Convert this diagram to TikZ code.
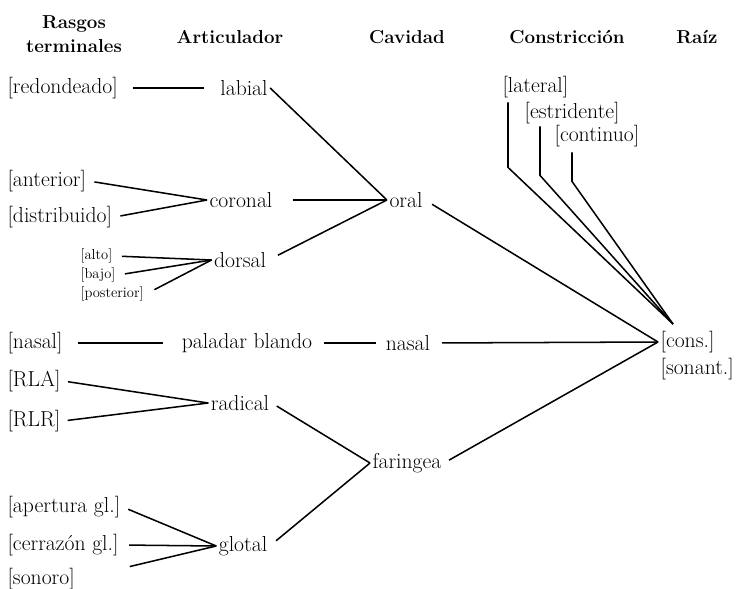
\documentclass[tikz,border=0pt]{standalone}
\usepackage{tikz}
\usetikzlibrary{positioning}

\tikzset{
  head/.style={font=\fontsize{16}{21}\selectfont\bfseries, align=center},
  feat/.style={inner sep=2pt},
  small/.style={font=\fontsize{12.4}{14}\selectfont, inner sep=2pt},
  link/.style={line width=1.3pt},
}

\begin{document}
\begin{tikzpicture}[x=0.3mm,y=0.3mm,font=\fontsize{18.5}{22}\selectfont]
                \useasboundingbox (0,0) rectangle (740,-589);
                % Headers
                \node[head] (hrasgos) at (74,-34) {Rasgos\\terminales};
                \node[head] (hartic) at (230,-37) {Articulador};
                \node[head] (hcavid) at (407,-37) {Cavidad};
                \node[head] (hconstr) at (567,-37) {Constricción};
                \node[head] (hraiz) at (697,-37) {Raíz};
                % Terminal features
                \node[feat,anchor=west] (redond) at (5,-88) {[redondeado]};
                \node[feat,anchor=west] (anterior) at (5,-181) {[anterior]};
                \node[feat,anchor=west] (distrib) at (5,-217) {[distribuido]};
                \node[small,anchor=west] (alto) at (78,-256) {[alto]};
                \node[small,anchor=west] (bajo) at (78,-275) {[bajo]};
                \node[small,anchor=west] (poster) at (78,-294) {[posterior]};
                \node[feat,anchor=west] (nasalf) at (5,-343) {[nasal]};
                \node[feat,anchor=west] (rla) at (5,-381) {[RLA]};
                \node[feat,anchor=west] (rlr) at (5,-421) {[RLR]};
                \node[feat,anchor=west] (apert) at (5,-507) {[apertura gl.]};
                \node[feat,anchor=west] (cerraz) at (5,-545) {[cerrazón gl.]};
                \node[feat,anchor=west] (sonoro) at (5,-579) {[sonoro]};
                % Articulators
                \node[feat] (labial) at (244,-88) {labial};
                \node[feat] (coronal) at (241,-200) {coronal};
                \node[feat] (dorsal) at (240,-260) {dorsal};
                \node[feat] (paladar) at (247,-343) {paladar blando};
                \node[feat] (radical) at (240,-403) {radical};
                \node[feat] (glotal) at (243,-546) {glotal};
                % Cavities
                \node[feat] (oral) at (406,-200) {oral};
                \node[feat] (nasal) at (408,-343) {nasal};
                \node[feat] (faringea) at (407,-463) {faringea};
                % Constriction
                \node[feat,anchor=west] (lateral) at (500,-87) {[lateral]};
                \node[feat,anchor=west] (estrid) at (522,-113) {[estridente]};
                \node[feat,anchor=west] (contin) at (552,-136) {[continuo]};
                % Root
                \node[feat,anchor=west] (cons) at (658,-342) {[cons.]};
                \node[feat,below=0pt of cons.south west,anchor=north west] (sonant) {[sonant.]};
                \coordinate (croot) at (673,-324);
                % Links
                \draw[link,shorten <=11pt,shorten >=12pt] (redond) -- (labial);
                \draw[link] (labial.east) -- (oral.west);
                \draw[link,shorten <=5pt] (anterior.east) -- (coronal.west);
                \draw[link,shorten <=5pt] (distrib.east) -- (coronal.west);
                \draw[link,shorten <=15pt] (coronal.east) -- (oral.west);
                \draw[link,shorten <=9pt] (dorsal.east) -- (oral.west);
                \draw[link,shorten <=6pt] (alto.east) -- (dorsal.west);
                \draw[link,shorten <=6pt] (bajo.east) -- (dorsal.west);
                \draw[link,shorten <=8pt] (poster.east) -- (dorsal.west);
                \draw[link,shorten <=7pt] (oral.east) -- (cons.west);
                \draw[link,shorten <=11pt,shorten >=14pt] (nasalf.east) -- (paladar.west);
                \draw[link,shorten <=8pt,shorten >=6pt] (paladar.east) -- (nasal.west);
                \draw[link,shorten <=8pt] (nasal.east) -- (cons.west);
                \draw[link,shorten <=4pt] (rla.east) -- (radical.west);
                \draw[link,shorten <=4pt] (rlr.east) -- (radical.west);
                \draw[link,shorten <=5pt] (radical.east) -- (faringea.west);
                \draw[link,shorten <=5pt] (apert.east) -- (glotal.west);
                \draw[link,shorten <=7pt] (cerraz.east) -- (glotal.west);
                \draw[link,shorten <=46pt] (sonoro.east) -- (glotal.west);
                \draw[link,shorten <=7pt] (glotal.east) -- (faringea.west);
                \draw[link,shorten <=5pt] (faringea.east) -- (cons.west);
                \draw[link] (lateral.south west) ++(8,-2) -- ++(0,-65) -- (croot);
                \draw[link] (estrid.south west) ++(18,0) -- ++(0,-49) -- (croot);
                \draw[link] (contin.south west) ++(20,-3) -- ++(0,-29) -- (croot);
            \end{tikzpicture}
\end{document}
